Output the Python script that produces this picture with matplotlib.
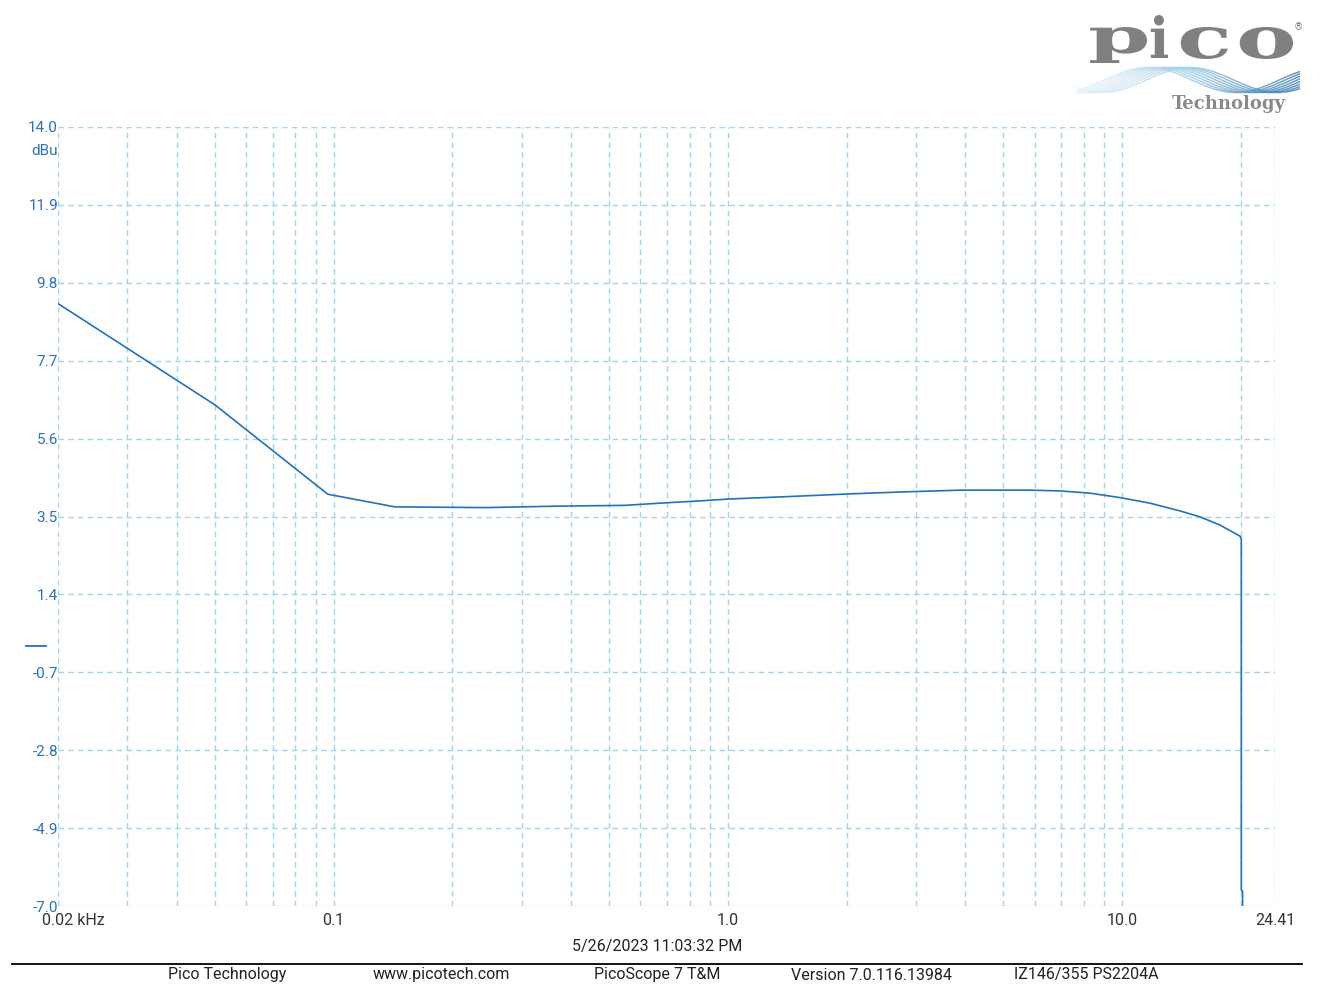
import numpy as np
import matplotlib
matplotlib.use('Agg')
import matplotlib.pyplot as plt
import matplotlib.transforms as mtransforms
from matplotlib.lines import Line2D
from matplotlib.collections import LineCollection
from matplotlib.textpath import TextPath
from matplotlib.patches import PathPatch
from matplotlib.path import Path
from matplotlib.font_manager import FontProperties

# frequency response
freq_khz = [0.02, 0.05, 0.0967, 0.143, 0.242, 0.375, 0.548, 0.673, 0.849, 1.0,
            1.52, 2.04, 2.73, 3.88, 5.83, 6.95, 8.28, 9.87, 11.76, 14.02,
            15.75, 17.7, 19.9, 20.05, 20.05, 20.2, 20.2]
level_dbu = [9.24, 6.51, 4.10, 3.76, 3.74, 3.78, 3.80, 3.86, 3.92, 3.97,
             4.05, 4.11, 4.16, 4.21, 4.21, 4.19, 4.13, 4.01, 3.86, 3.65,
             3.49, 3.27, 2.97, 2.90, -6.57, -6.6, -7.5]

y_ticks = [14.0, 11.9, 9.8, 7.7, 5.6, 3.5, 1.4, -0.7, -2.8, -4.9, -7.0]
x_ticks = [0.02, 0.1, 1.0, 10.0, 24.41]
x_labels = ['0.02 kHz', '0.1', '1.0', '10.0', '24.41']
footer = ['Pico Technology', 'www.picotech.com', 'PicoScope 7 T&M',
          'Version 7.0.116.13984', 'IZ146/355 PS2204A']
footer_x = [227, 441, 657, 871, 1086]
stamp = '5/26/2023 11:03:32 PM'

W, H = 1331, 1002
plt.rcParams['font.family'] = ['Roboto', 'DejaVu Sans']
fig = plt.figure(figsize=(W / 100, H / 100), dpi=100)
fig.patch.set_facecolor('white')

ax = fig.add_axes([58 / W, 1 - 906 / H, (1275 - 58) / W, (906 - 127) / H])
ax.set_xscale('log')
ax.set_xlim(0.02, 24.41)
ax.set_ylim(-7.0, 14.0)

blue = '#2272b8'
gridc = '#a3d5ea'
dash = (0, (4, 3))

# grid: every y tick, every 1-9 multiple on x, plus the frame
for y in y_ticks:
    ax.axhline(y, color=gridc, lw=1.0, ls=dash, zorder=1)
vx = []
for dec in [0.01, 0.1, 1.0, 10.0]:
    for m in range(1, 10):
        v = round(dec * m, 3)
        if 0.02 <= v <= 24.41:
            vx.append(v)
vx.append(24.41)
for v in vx:
    ax.axvline(v, color=gridc, lw=1.0, ls=dash, zorder=1)

ax.plot(freq_khz, level_dbu, color=blue, lw=1.2, zorder=3)

for s in ax.spines.values():
    s.set_visible(False)
ax.set_yticks(y_ticks)
ax.set_yticklabels(['%.1f' % v for v in y_ticks])
ax.tick_params(axis='y', length=0, pad=0, labelsize=11, labelcolor='#2a72b5')
ax.set_xticks([])
ax.xaxis.set_minor_locator(matplotlib.ticker.NullLocator())

# x labels
trans = mtransforms.blended_transform_factory(ax.transData, ax.transAxes)
for v, lab in zip(x_ticks, x_labels):
    if lab.endswith('kHz'):
        t = mtransforms.offset_copy(trans, fig=fig, x=-16, y=0, units='dots')
        ax.text(v, -0.009, lab, transform=t, ha='left', va='top', fontsize=11.5, color='#333333')
    else:
        ax.text(v, -0.009, lab, transform=trans, ha='center', va='top', fontsize=11.5, color='#333333')

# unit label and zero marker
ax.text(0.0, 0.969, 'dBu', transform=ax.transAxes, ha='right', va='center',
        fontsize=11, color='#2a72b5')
zt = mtransforms.blended_transform_factory(fig.transFigure, ax.transData)
ax.plot([26 / W, 46 / W], [0, 0], transform=zt, color=blue, lw=1.3, clip_on=False)

# date stamp and footer
fig.text(657 / W, 1 - 946 / H, stamp, ha='center', va='center', fontsize=11.5, color='#222222')
fig.add_artist(Line2D([12 / W, 1302 / W], [1 - 964 / H] * 2, color='black', lw=1.3))
for x, s in zip(footer_x, footer):
    fig.text(x / W, 1 - 975 / H, s, ha='center', va='center', fontsize=11.5, color='#222222')

# logo, in figure pixels
lg = fig.add_axes([0, 0, 1, 1], zorder=-1)
lg.set_xlim(0, W)
lg.set_ylim(H, 0)
lg.axis('off')
serif = FontProperties(family='DejaVu Serif', weight='bold')
boxes = {'p': (1088, 1147, 27, 63), 'i': (1149, 1168, 15, 58),
         'c': (1177, 1228, 27, 59), 'o': (1236, 1293, 27, 59)}
for ch, (x0, x1, y0, y1) in boxes.items():
    tp = TextPath((0, 0), ch, size=50, prop=serif)
    v = tp.vertices.copy()
    bx0, by0 = v.min(axis=0)
    bx1, by1 = v.max(axis=0)
    nv = np.column_stack([x0 + (v[:, 0] - bx0) / (bx1 - bx0) * (x1 - x0),
                          y1 - (v[:, 1] - by0) / (by1 - by0) * (y1 - y0)])
    lg.add_patch(PathPatch(Path(nv, tp.codes), fc='#808080', ec='none'))
lg.text(1298, 27, '®', ha='center', va='center', fontsize=7, color='#7f7f7f')
xs = np.linspace(1076, 1300, 300)
cmap = matplotlib.colors.LinearSegmentedColormap.from_list('w', ['#eaf4fa', '#9fcdea', '#3a78ad'])
for k in range(8):
    ys = 80 - 12.5 * np.cos(2 * np.pi * (xs - 1148 - 6 * k) / 175)
    pts = np.column_stack([xs, ys]).reshape(-1, 1, 2)
    segs = np.concatenate([pts[:-1], pts[1:]], axis=1)
    lc = LineCollection(segs, cmap=cmap, norm=plt.Normalize(1076, 1300), lw=1.0)
    lc.set_array(xs[:-1])
    lg.add_collection(lc)
lg.text(1229, 104, 'Technology', ha='center', va='center', fontsize=13, fontweight='bold',
        family='DejaVu Serif', color='#8a8a8a')

fig.savefig('out.png', dpi=100, facecolor='white')
